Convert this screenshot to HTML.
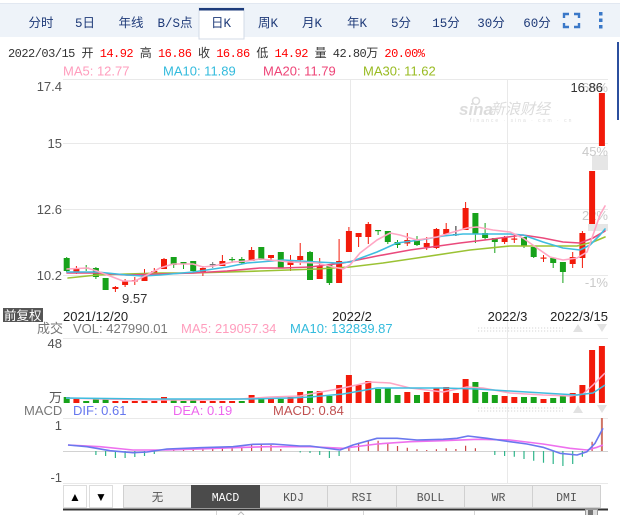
<!DOCTYPE html>
<html><head><meta charset="utf-8"><style>
html,body{margin:0;padding:0;background:#fff;}
svg{display:block;}
.s{font-family:"Liberation Sans","Noto Sans CJK SC",sans-serif;}
.m{font-family:"Liberation Mono","Noto Sans CJK SC",monospace;}
</style></head><body>
<svg width="620" height="515" viewBox="0 0 620 515" xmlns="http://www.w3.org/2000/svg">
<rect width="620" height="515" fill="#fff"/>
<!-- top tab bar -->
<rect x="0" y="3" width="620" height="34" fill="#eef3f9"/>
<line x1="0" y1="3.5" x2="620" y2="3.5" stroke="#e2e8f1"/>
<rect x="199" y="8" width="45" height="31" fill="#fff" stroke="#d3dbe7" stroke-width="1"/>
<rect x="199" y="8" width="45" height="2.5" fill="#1c3b7b"/>
<g class="m" font-size="12.5" fill="#1e3a78" text-anchor="middle">
<text x="41" y="27">分时</text>
<text x="85" y="27">5日</text>
<text x="131" y="27">年线</text>
<text x="175" y="27">B/S点</text>
<text x="221" y="27">日K</text>
<text x="268" y="27">周K</text>
<text x="312" y="27">月K</text>
<text x="357" y="27">年K</text>
<text x="401" y="27">5分</text>
<text x="446" y="27">15分</text>
<text x="491" y="27">30分</text>
<text x="537" y="27">60分</text>
</g>
<g stroke="#3a78c8" stroke-width="2.4" fill="none">
<path d="M564 18V14H569 M574 14H579V18 M579 23V27H574 M569 27H564V23"/>
</g>
<g fill="#3a78c8"><rect x="599" y="12" width="3.5" height="3.5"/><rect x="599" y="18.5" width="3.5" height="3.5"/><rect x="599" y="25" width="3.5" height="3.5"/></g>
<rect x="617" y="42" width="2" height="78" fill="#2b4f9e"/>

<!-- info line -->
<text class="m" x="8" y="57" font-size="12" fill="#333" textLength="417" lengthAdjust="spacing">2022/03/15 开 <tspan fill="#f00">14.92</tspan> 高 <tspan fill="#f00">16.86</tspan> 收 <tspan fill="#f00">16.86</tspan> 低 <tspan fill="#f00">14.92</tspan> 量 42.80万 <tspan fill="#f00">20.00%</tspan></text>
<g class="s" font-size="13">
<text x="63" y="75.5" fill="#ff9dbd">MA5: 12.77</text>
<text x="163" y="75.5" fill="#33bbdd">MA10: 11.89</text>
<text x="263" y="75.5" fill="#ee4477">MA20: 11.79</text>
<text x="363" y="75.5" fill="#99bb22">MA30: 11.62</text>
</g>

<!-- grid -->
<g stroke="#e9e9e9" stroke-width="1">
<line x1="63" y1="79.5" x2="608" y2="79.5"/>
<line x1="63" y1="143.5" x2="608" y2="143.5"/>
<line x1="63" y1="209.5" x2="608" y2="209.5"/>
<line x1="63" y1="275.5" x2="608" y2="275.5"/>
<line x1="63" y1="338.5" x2="608" y2="338.5"/>
<line x1="63" y1="418.5" x2="608" y2="418.5"/>
<line x1="63" y1="483.5" x2="608" y2="483.5"/>
<line x1="350.5" y1="79" x2="350.5" y2="484"/>
<line x1="507.5" y1="79" x2="507.5" y2="484"/>
</g>
<line x1="63" y1="451.5" x2="608" y2="451.5" stroke="#d2d2d2"/>

<!-- y labels -->
<g class="s" font-size="13" fill="#555" text-anchor="end">
<text x="62" y="91">17.4</text>
<text x="62" y="148">15</text>
<text x="62" y="214">12.6</text>
<text x="62" y="280">10.2</text>
<text x="62" y="348">48</text>
<text x="62" y="402">万</text>
<text x="62" y="430">1</text>
<text x="62" y="482">-1</text>
</g>

<!-- watermark -->
<g fill="#dcdcdc">
<circle cx="476" cy="101" r="3.5" fill="none" stroke="#dcdcdc" stroke-width="1.5"/>
<text x="459" y="115" font-family="Liberation Sans, sans-serif" font-size="17" font-style="italic" font-weight="bold">sina</text>
<text x="490" y="114" font-family="Noto Sans CJK SC, sans-serif" font-size="15" font-style="italic">新浪财经</text>
<text x="470" y="122" font-family="Liberation Sans, sans-serif" font-size="5" letter-spacing="2">finance · sina · com · cn</text>
</g>

<!-- percent labels -->
<rect x="592" y="155" width="16" height="15" fill="#e6e6e6"/>
<rect x="588" y="224" width="20" height="7" fill="#e6e6e6"/>
<g class="s" font-size="13" fill="#c9c9c9" text-anchor="end">
<text x="608" y="92">68%</text>
<text x="608" y="156">45%</text>
<text x="608" y="220">22%</text>
<text x="608" y="287">-1%</text>
</g>

<!-- candles red -->
<g stroke="#f21a0a" stroke-width="1" fill="none">
<path d="M76.4 266V274 M115.4 286V292 M125.1 279V287 M134.8 277V285 M144.5 269V281 M154.3 268V274 M164 258V269 M202.9 266V276 M222.4 255V266 M251.6 247V261 M271 255V261 M290.5 255V271 M300.2 243V265 M319.7 258V279 M339.1 239V283 M348.9 227V252 M358.6 233V247 M368.3 222V244 M407.3 233V246 M426.7 237V250 M436.4 228V249 M446.2 223V234 M465.6 202V230 M504.6 236V244 M514.3 235V243 M543.5 255V262 M572.7 252V268 M582.4 231V268"/>
</g>
<g fill="#f21a0a">
<rect x="73.4" y="268" width="6" height="4"/>
<rect x="112.4" y="287" width="6" height="2"/>
<rect x="122.1" y="281" width="6" height="4"/>
<rect x="131.8" y="280" width="6" height="1.5"/>
<rect x="141.5" y="273" width="6" height="8"/>
<rect x="151.3" y="271" width="6" height="2.5"/>
<rect x="161" y="259" width="6" height="10"/>
<rect x="199.9" y="268" width="6" height="4"/>
<rect x="219.4" y="261" width="6" height="5"/>
<rect x="248.6" y="250" width="6" height="11"/>
<rect x="268" y="255" width="6" height="3"/>
<rect x="287.5" y="261" width="6" height="4"/>
<rect x="297.2" y="256" width="6" height="4"/>
<rect x="316.7" y="266" width="6" height="13"/>
<rect x="336.1" y="261" width="6" height="22"/>
<rect x="345.9" y="231" width="6" height="21"/>
<rect x="355.6" y="233" width="6" height="4"/>
<rect x="365.3" y="224" width="6" height="13"/>
<rect x="404.3" y="240" width="6" height="3.5"/>
<rect x="423.7" y="243" width="6" height="4"/>
<rect x="433.4" y="229" width="6" height="19"/>
<rect x="443.2" y="229" width="6" height="5"/>
<rect x="462.6" y="208" width="6" height="22"/>
<rect x="501.6" y="237" width="6" height="5"/>
<rect x="511.3" y="238.5" width="6" height="1.2"/>
<rect x="540.5" y="257.5" width="6" height="1.2"/>
<rect x="569.7" y="257" width="6" height="7"/>
<rect x="579.4" y="233" width="6" height="25"/>
<rect x="589.1" y="171" width="6" height="53"/>
<rect x="598.9" y="93" width="6" height="53"/>
</g>
<!-- candles green -->
<g stroke="#17a21a" stroke-width="1" fill="none">
<path d="M66.7 257V272 M86.2 265V271 M95.9 267V279 M105.6 278V290 M173.7 257V268 M183.5 262V269 M193.2 261V272 M232.1 257V263 M241.8 257V264 M261.3 247V260 M280.8 252V268 M310 251V280 M329.4 265V285 M378.1 230V235 M387.8 231V244 M397.5 240V248 M417 236V246 M475.4 213V243 M485.1 223V240 M494.8 238V253 M524 237V248 M533.7 247V258 M553.2 257V268 M562.9 262V283"/>
</g>
<g fill="#17a21a">
<rect x="63.7" y="258" width="6" height="13"/>
<rect x="83.2" y="267.5" width="6" height="1.2"/>
<rect x="92.9" y="268" width="6" height="9"/>
<rect x="102.6" y="278" width="6" height="12"/>
<rect x="170.7" y="257" width="6" height="8"/>
<rect x="180.5" y="262" width="6" height="2.5"/>
<rect x="190.2" y="261" width="6" height="10"/>
<rect x="229.1" y="259" width="6" height="1.2"/>
<rect x="238.8" y="259" width="6" height="4"/>
<rect x="258.3" y="247" width="6" height="13"/>
<rect x="277.8" y="252" width="6" height="16"/>
<rect x="307" y="252" width="6" height="28"/>
<rect x="326.4" y="265" width="6" height="18"/>
<rect x="375.1" y="230" width="6" height="1.2"/>
<rect x="384.8" y="231" width="6" height="11"/>
<rect x="394.5" y="242" width="6" height="3"/>
<rect x="414" y="240" width="6" height="5"/>
<rect x="472.4" y="213" width="6" height="21"/>
<rect x="482.1" y="233" width="6" height="5"/>
<rect x="491.8" y="238" width="6" height="4"/>
<rect x="521" y="237" width="6" height="9"/>
<rect x="530.7" y="247" width="6" height="10"/>
<rect x="550.2" y="258" width="6" height="5"/>
<rect x="559.9" y="262" width="6" height="10"/>
</g>
<path d="M212.7 262V268" stroke="#777"/><rect x="209.7" y="264" width="6" height="1.2" fill="#777"/>
<path d="M455.9 226V236" stroke="#222"/><rect x="452.9" y="234" width="6" height="1.2" fill="#222"/>

<!-- MA lines -->
<g fill="none" stroke-width="1.6" stroke-linejoin="round" stroke-linecap="round">
<polyline stroke="#9bc234" points="68,278 97,275 127,274 160,273 193,273 260,271 317,269 350,267 383,263 417,258 450,253 470,250 510,246 543,246 577,246 593,242 605,237"/>
<polyline stroke="#ea4a7c" points="67,273 97,273 127,275 160,274 193,273 227,271 260,268 283,268 310,267 343,263 377,256 410,250 460,243 493,239 523,235 543,238 563,242 580,243 593,238 605,231"/>
<polyline stroke="#3fbde0" points="67,272 97,272 127,275 143,276 160,275 193,272 227,267 247,263 260,262 283,260 317,262 337,263 350,262 377,252 397,243 420,240 443,236 463,234 477,234 510,234 523,235 543,242 563,248 580,250 590,245 600,235 605,229"/>
<polyline stroke="#ffa6c4" points="67,269 87,268 97,271 110,276 123,281 135,281 147,275 160,268 173,264 193,264 203,267 213,266 233,262 247,261 260,259 270,260 290,262 317,263 333,267 343,269 350,265 360,253 377,240 390,233 400,235 417,240 437,237 450,233 457,231 467,228 477,227 493,230 510,232 523,238 537,248 550,257 563,260 577,258 587,252 593,235 600,215 605,206"/>
</g>

<!-- price labels -->
<g class="s" font-size="13" fill="#333">
<text x="603" y="92" text-anchor="end">16.86</text>
<text x="122" y="303">9.57</text>
</g>

<!-- date row -->
<rect x="3" y="308" width="40" height="14" fill="#555"/>
<text class="s" x="4" y="320" font-size="12.5" fill="#fff">前复权</text>
<g class="s" font-size="13" fill="#222">
<text x="63" y="321">2021/12/20</text>
<text x="352" y="321" text-anchor="middle">2022/2</text>
<text x="507.5" y="321" text-anchor="middle">2022/3</text>
<text x="608" y="321" text-anchor="end">2022/3/15</text>
</g>

<!-- volume label -->
<g class="s" font-size="13">
<text x="37" y="333" fill="#777">成交</text>
<text x="73" y="333" fill="#777">VOL: 427990.01</text>
<text x="181" y="333" fill="#ff9dbd">MA5: 219057.34</text>
<text x="290" y="333" fill="#33bbdd">MA10: 132839.87</text>
</g>
<g stroke="#dedede" stroke-dasharray="1.2,1.8" stroke-width="1.2">
<line x1="478" y1="328" x2="563" y2="328"/><line x1="478" y1="331" x2="563" y2="331"/>
<line x1="478" y1="408" x2="563" y2="408"/><line x1="478" y1="411" x2="563" y2="411"/>
</g>
<g fill="#e2e2e2">
<path d="M573 332L578 324L583 332Z"/><path d="M597 324L607 324L602 332Z"/>
<path d="M573 413L578 405L583 413Z"/><path d="M597 405L607 405L602 413Z"/>
</g>

<!-- volume bars -->
<g fill="#f21a0a">
<rect x="73.4" y="399" width="6" height="4"/>
<rect x="112.4" y="401" width="6" height="2"/>
<rect x="122.1" y="401" width="6" height="2"/>
<rect x="131.8" y="401" width="6" height="2"/>
<rect x="141.5" y="401" width="6" height="2"/>
<rect x="151.3" y="401" width="6" height="2"/>
<rect x="161" y="397" width="6" height="6"/>
<rect x="199.9" y="401" width="6" height="2"/>
<rect x="209.7" y="401" width="6" height="2"/>
<rect x="219.4" y="401" width="6" height="2"/>
<rect x="229.1" y="401" width="6" height="2"/>
<rect x="248.6" y="395" width="6" height="8"/>
<rect x="268" y="399" width="6" height="4"/>
<rect x="287.5" y="397" width="6" height="6"/>
<rect x="297.2" y="392" width="6" height="11"/>
<rect x="316.7" y="391" width="6" height="12"/>
<rect x="336.1" y="385" width="6" height="18"/>
<rect x="345.9" y="375" width="6" height="28"/>
<rect x="355.6" y="385" width="6" height="18"/>
<rect x="365.3" y="381" width="6" height="22"/>
<rect x="404.3" y="392" width="6" height="11"/>
<rect x="423.7" y="392" width="6" height="11"/>
<rect x="433.4" y="388" width="6" height="15"/>
<rect x="443.2" y="387" width="6" height="16"/>
<rect x="452.9" y="393" width="6" height="10"/>
<rect x="462.6" y="379" width="6" height="24"/>
<rect x="501.6" y="396" width="6" height="7"/>
<rect x="511.3" y="397" width="6" height="6"/>
<rect x="540.5" y="399" width="6" height="4"/>
<rect x="569.7" y="393" width="6" height="10"/>
<rect x="579.4" y="385" width="6" height="18"/>
<rect x="589.1" y="350" width="6" height="53"/>
<rect x="598.9" y="346" width="6" height="57"/>
</g>
<g fill="#17a21a">
<rect x="63.7" y="397" width="6" height="6"/>
<rect x="83.2" y="401" width="6" height="2"/>
<rect x="92.9" y="399" width="6" height="4"/>
<rect x="102.6" y="398.5" width="6" height="4.5"/>
<rect x="170.7" y="399" width="6" height="4"/>
<rect x="180.5" y="401" width="6" height="2"/>
<rect x="190.2" y="400" width="6" height="3"/>
<rect x="238.8" y="401" width="6" height="2"/>
<rect x="258.3" y="397" width="6" height="6"/>
<rect x="277.8" y="399" width="6" height="4"/>
<rect x="307" y="391" width="6" height="12"/>
<rect x="326.4" y="396" width="6" height="7"/>
<rect x="375.1" y="389" width="6" height="14"/>
<rect x="384.8" y="388" width="6" height="15"/>
<rect x="394.5" y="395" width="6" height="8"/>
<rect x="414" y="395" width="6" height="8"/>
<rect x="472.4" y="382" width="6" height="21"/>
<rect x="482.1" y="392" width="6" height="11"/>
<rect x="491.8" y="395" width="6" height="8"/>
<rect x="521" y="397" width="6" height="6"/>
<rect x="530.7" y="397" width="6" height="6"/>
<rect x="550.2" y="398" width="6" height="5"/>
<rect x="559.9" y="396" width="6" height="7"/>
</g>
<g fill="none" stroke-width="1.5" stroke-linejoin="round">
<polyline stroke="#ffa6c4" points="66,398 100,399 150,400 200,400 240,399 270,397 300,396 310,394 343,388 370,382 390,383 410,388 443,392 467,387 483,388 510,393 543,395 570,396 583,394 593,385 605,373"/>
<polyline stroke="#3fbde0" points="66,398 150,399 250,399 290,398 310,397 343,394 377,388 410,388 443,388 477,389 510,391 543,393 577,395 593,393 605,385"/>
</g>

<!-- MACD label -->
<g class="s" font-size="13">
<text x="24" y="415" fill="#777">MACD</text>
<text x="73" y="415" fill="#6677ee">DIF: 0.61</text>
<text x="173" y="415" fill="#ee66ee">DEA: 0.19</text>
<text x="273" y="415" fill="#c05050">MACD: 0.84</text>
</g>
<!-- MACD histogram -->
<g stroke="#2fb58a" stroke-width="1.2" fill="none">
<path d="M95.9 451V455 M105.6 451V456 M115.4 451V458 M125.1 451V458 M134.8 451V457 M144.5 451V456 M154.3 451V454 M300.2 451V452.5 M310 451V453 M319.7 451V455 M329.4 451V458 M339.1 451V456 M494.8 451V455 M504.6 451V456 M514.3 451V456.7 M524 451V459 M533.7 451V460.7 M543.5 451V462.7 M553.2 451V464 M562.9 451V466 M572.7 451V464 M582.4 451V456.7"/>
</g>
<g stroke="#cc4444" stroke-width="1.2" fill="none">
<path d="M173.7 451V449 M183.5 451V449 M193.2 451V449 M202.9 451V449 M212.7 451V449 M222.4 451V448 M232.1 451V448 M241.8 451V448 M251.6 451V444 M261.3 451V444 M271 451V445 M280.8 451V449 M348.9 451V446.7 M358.6 451V442.7 M368.3 451V440.7 M378.1 451V440.7 M387.8 451V442.7 M397.5 451V446 M407.3 451V447.7 M417 451V449.3 M426.7 451V450 M436.4 451V449.3 M446.2 451V448.3 M455.9 451V449 M465.6 451V445.7 M475.4 451V448.3 M592.1 451V441.7"/>
</g>
<path d="M601.9 451V418" stroke="#cf7565" stroke-width="2"/>
<g fill="none" stroke-width="1.6" stroke-linejoin="round">
<polyline stroke="#ee70ee" points="68,445 100,446.7 133,450 167,450 200,449 233,447.7 267,446.7 310,446.7 343,448.3 377,444 410,441.7 443,440.7 477,439.3 510,440 543,444 570,448.3 587,450 597,447.3 603,445"/>
<polyline stroke="#6a78ee" points="68,445 87,446.7 110,450.7 133,452.7 147,452 167,449 200,447.7 233,446.7 253,444.3 273,444 300,446 310,446 340,450 353,445 377,438.3 397,438.3 417,440 443,439.3 457,438.3 468,436 487,438.3 510,441.7 527,444 543,447.3 560,453.3 577,455 587,451.7 595,443.3 603,428.3"/>
</g>

<!-- bottom tabs -->
<rect x="63.5" y="485.5" width="23" height="22" fill="#fff" stroke="#ddd"/>
<rect x="89.5" y="485.5" width="23" height="22" fill="#fff" stroke="#ddd"/>
<text class="s" x="75" y="501" font-size="12" text-anchor="middle" fill="#000">▲</text>
<text class="s" x="101" y="501" font-size="12" text-anchor="middle" fill="#000">▼</text>
<g stroke="#d0d0d0" fill="#eeeeee">
<rect x="123.5" y="485.5" width="68" height="22"/>
<rect x="259.5" y="485.5" width="68" height="22"/>
<rect x="327.5" y="485.5" width="69" height="22"/>
<rect x="396.5" y="485.5" width="68" height="22"/>
<rect x="464.5" y="485.5" width="68" height="22"/>
<rect x="532.5" y="485.5" width="68" height="22"/>
</g>
<rect x="191.5" y="485.5" width="68" height="22" fill="#4b4b4b" stroke="#4b4b4b"/>
<g class="m" font-size="11.5" fill="#555" text-anchor="middle">
<text x="157.5" y="501">无</text>
<text x="225.5" y="501" fill="#fff">MACD</text>
<text x="293.5" y="501">KDJ</text>
<text x="362" y="501">RSI</text>
<text x="430.5" y="501">BOLL</text>
<text x="498.5" y="501">WR</text>
<text x="566.5" y="501">DMI</text>
</g>
<rect x="63" y="508.5" width="545" height="2" fill="#333"/>
<g stroke="#d5d5d5"><line x1="216.5" y1="511" x2="216.5" y2="515"/><line x1="363.5" y1="511" x2="363.5" y2="515"/><line x1="474.5" y1="511" x2="474.5" y2="515"/></g>
<path d="M238 515L241 512L244 515" fill="none" stroke="#bbb"/>
<rect x="585.5" y="509.5" width="12" height="6" fill="#ddd" stroke="#999"/>
<rect x="588" y="510" width="5" height="5" fill="#777"/>
</svg>
</body></html>
